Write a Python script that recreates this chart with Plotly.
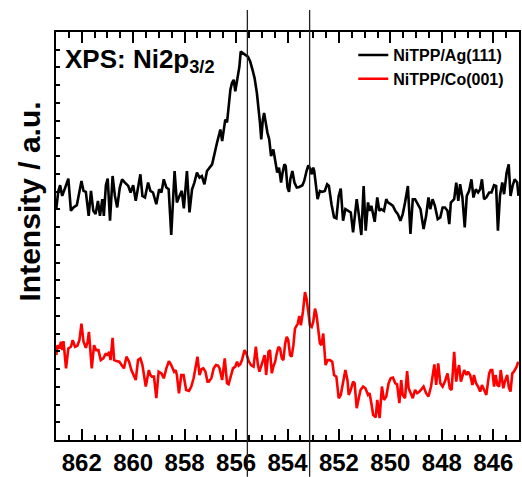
import plotly.graph_objects as go

# Binding energy (eV) and intensity (a.u.)
be_ag = [862.99, 862.91, 862.84, 862.76, 862.64, 862.52, 862.42, 862.32, 862.19, 862.09,
         862.01, 861.93, 861.84, 861.73, 861.64, 861.55, 861.46, 861.37, 861.29, 861.20,
         861.14, 861.06, 860.99, 860.90, 860.80, 860.71, 860.62, 860.52, 860.43, 860.32,
         860.19, 860.10, 860.00, 859.90, 859.81, 859.72, 859.64, 859.54, 859.42, 859.33,
         859.23, 859.10, 858.99, 858.90, 858.81, 858.71, 858.62, 858.52, 858.39, 858.30,
         858.20, 858.11, 858.03, 857.91, 857.81, 857.71, 857.62, 857.52, 857.42, 857.33,
         857.23, 857.13, 856.93, 856.87, 856.80, 856.74, 856.67, 856.61, 856.54, 856.48,
         856.42, 856.35, 856.29, 856.22, 856.16, 856.09, 856.03, 855.93, 855.87, 855.82,
         855.75, 855.64, 855.54, 855.45, 855.36, 855.28, 855.19, 855.13, 855.07, 855.02,
         854.96, 854.91, 854.84, 854.78, 854.71, 854.64, 854.55, 854.48, 854.40, 854.33,
         854.25, 854.19, 854.12, 854.07, 854.00, 853.94, 853.89, 853.81, 853.73, 853.64,
         853.54, 853.42, 853.35, 853.26, 853.19, 853.11, 853.06, 853.00, 852.96, 852.83,
         852.74, 852.65, 852.55, 852.46, 852.39, 852.29, 852.19, 852.10, 852.01, 851.93,
         851.84, 851.75, 851.65, 851.54, 851.45, 851.39, 851.31, 851.23, 851.13, 851.04,
         850.96, 850.87, 850.81, 850.74, 850.61, 850.51, 850.43, 850.36, 850.25, 850.16,
         850.10, 849.99, 849.90, 849.81, 849.71, 849.61, 849.52, 849.43, 849.32, 849.22,
         849.13, 849.04, 848.94, 848.83, 848.71, 848.61, 848.52, 848.45, 848.36, 848.27,
         848.16, 848.06, 847.97, 847.88, 847.78, 847.71, 847.65, 847.52, 847.44, 847.36,
         847.29, 847.20, 847.11, 847.03, 846.94, 846.85, 846.77, 846.68, 846.59, 846.51,
         846.44, 846.36, 846.27, 846.16, 846.07, 845.97, 845.89, 845.82, 845.74, 845.65,
         845.58, 845.48, 845.40, 845.33, 845.25, 845.17, 845.07, 845.02]
int_ag = [232.0, 250.3, 256.0, 245.3, 253.7, 262.7, 230.3, 233.7, 236.0, 248.7,
          260.3, 250.3, 249.3, 225.3, 250.3, 230.3, 227.0, 240.3, 225.3, 242.0,
          225.3, 256.0, 262.7, 220.3, 265.3, 245.3, 233.7, 253.7, 262.0, 258.7,
          255.3, 248.7, 256.0, 240.3, 252.0, 267.0, 245.3, 243.7, 258.7, 250.3,
          248.7, 237.0, 252.0, 248.7, 262.0, 253.7, 252.0, 206.0, 270.3, 238.7,
          245.3, 250.3, 232.7, 270.3, 228.7, 252.0, 258.7, 268.7, 263.7, 265.3,
          257.0, 270.3, 277.0, 285.3, 292.0, 298.7, 305.3, 312.0, 300.3, 313.7,
          322.0, 319.3, 335.3, 352.0, 358.7, 362.0, 350.3, 365.3, 375.3, 390.3,
          388.7, 387.0, 385.3, 380.3, 372.0, 363.7, 348.7, 335.3, 318.7, 302.0,
          322.0, 328.7, 317.0, 308.7, 302.0, 285.3, 292.0, 282.0, 268.7, 273.7,
          258.7, 268.7, 277.0, 275.3, 253.7, 249.3, 262.0, 270.3, 258.7, 253.7,
          254.3, 256.0, 260.3, 270.3, 276.0, 272.0, 267.0, 273.7, 270.3, 242.0,
          250.3, 249.3, 250.3, 257.0, 255.3, 237.0, 223.7, 222.7, 245.3, 252.7,
          220.3, 232.0, 230.3, 228.7, 208.7, 225.3, 242.0, 227.0, 206.0, 255.3,
          210.3, 238.7, 230.3, 235.3, 219.3, 243.7, 230.3, 232.0, 230.3, 242.0,
          238.7, 237.0, 235.3, 230.3, 227.0, 220.3, 227.0, 238.7, 255.3, 207.0,
          242.0, 242.0, 237.0, 232.0, 212.0, 225.3, 243.7, 232.0, 242.0, 235.3,
          222.0, 223.7, 233.7, 233.7, 230.3, 217.0, 238.7, 242.0, 258.7, 240.3,
          257.0, 243.7, 213.7, 245.3, 250.3, 262.0, 243.7, 252.0, 248.7, 252.0,
          262.0, 242.0, 243.7, 248.7, 248.7, 256.0, 255.3, 210.3, 245.3, 258.7,
          247.0, 268.7, 277.0, 245.3, 255.3, 262.0, 258.7, 245.3]

be_co = [862.99, 862.94, 862.86, 862.81, 862.76, 862.71, 862.61, 862.52, 862.42, 862.35,
         862.26, 862.17, 862.09, 862.01, 861.93, 861.84, 861.77, 861.72, 861.61, 861.52,
         861.44, 861.35, 861.26, 861.16, 861.06, 861.01, 860.93, 860.88, 860.80, 860.74,
         860.65, 860.54, 860.45, 860.36, 860.26, 860.16, 860.07, 859.97, 859.90, 859.81,
         859.72, 859.64, 859.51, 859.39, 859.33, 859.27, 859.19, 859.10, 859.01, 858.90,
         858.81, 858.71, 858.61, 858.52, 858.41, 858.35, 858.30, 858.22, 858.13, 858.04,
         857.94, 857.83, 857.74, 857.65, 857.58, 857.50, 857.42, 857.34, 857.27, 857.19,
         857.11, 857.06, 856.96, 856.87, 856.78, 856.70, 856.64, 856.54, 856.44, 856.35,
         856.29, 856.20, 856.12, 856.03, 855.96, 855.90, 855.84, 855.77, 855.67, 855.60,
         855.51, 855.42, 855.32, 855.23, 855.15, 855.09, 855.02, 854.96, 854.89, 854.83,
         854.74, 854.68, 854.61, 854.55, 854.48, 854.42, 854.35, 854.29, 854.22, 854.16,
         854.09, 854.03, 853.97, 853.90, 853.84, 853.77, 853.71, 853.60, 853.54, 853.48,
         853.40, 853.32, 853.26, 853.19, 853.13, 853.06, 853.00, 852.93, 852.87, 852.74,
         852.68, 852.61, 852.52, 852.44, 852.35, 852.26, 852.19, 852.10, 852.01, 851.93,
         851.84, 851.75, 851.67, 851.62, 851.54, 851.45, 851.39, 851.31, 851.23, 851.16,
         851.06, 850.97, 850.87, 850.81, 850.74, 850.67, 850.57, 850.51, 850.42, 850.33,
         850.25, 850.16, 850.07, 849.99, 849.90, 849.81, 849.74, 849.65, 849.58, 849.52,
         849.43, 849.35, 849.29, 849.20, 849.13, 849.04, 848.96, 848.87, 848.81, 848.71,
         848.61, 848.52, 848.42, 848.36, 848.29, 848.22, 848.14, 848.06, 847.97, 847.88,
         847.78, 847.69, 847.62, 847.52, 847.44, 847.39, 847.33, 847.26, 847.20, 847.13,
         847.04, 846.98, 846.90, 846.81, 846.75, 846.67, 846.59, 846.51, 846.44, 846.36,
         846.27, 846.16, 846.10, 846.04, 845.97, 845.91, 845.84, 845.77, 845.71, 845.61,
         845.55, 845.46, 845.39, 845.33, 845.26, 845.20, 845.09, 845.03]
int_co = [85.3, 95.3, 92.0, 98.7, 90.3, 99.3, 72.0, 92.0, 93.7, 100.3,
          93.7, 94.7, 100.3, 117.0, 98.7, 92.7, 98.7, 108.7, 72.0, 95.3,
          90.3, 90.3, 80.3, 82.0, 87.0, 84.7, 88.7, 80.3, 102.7, 80.3,
          79.3, 78.7, 75.3, 72.0, 83.7, 78.7, 70.3, 65.3, 60.3, 80.3,
          82.0, 75.3, 53.7, 70.3, 65.3, 63.7, 63.7, 42.0, 68.7, 67.0,
          62.0, 72.0, 79.3, 75.3, 68.7, 70.3, 65.3, 47.0, 65.3, 65.3,
          50.3, 49.3, 53.7, 62.0, 72.0, 83.7, 65.3, 71.3, 72.0, 68.7,
          58.7, 58.7, 62.0, 72.0, 75.3, 74.7, 72.0, 60.3, 82.0, 57.0,
          56.0, 65.3, 72.0, 73.7, 78.7, 74.7, 76.0, 80.3, 90.3, 87.0,
          79.3, 75.3, 73.7, 93.7, 75.3, 68.7, 75.3, 80.3, 85.3, 65.3,
          88.7, 90.3, 67.0, 73.7, 78.7, 87.0, 93.7, 92.0, 82.0, 80.3,
          97.0, 103.7, 100.3, 85.3, 83.7, 95.3, 112.0, 117.0, 124.7, 115.3,
          128.7, 148.7, 142.0, 128.7, 115.3, 113.7, 118.7, 132.0, 125.3, 97.0,
          95.3, 107.0, 75.3, 80.3, 80.3, 78.7, 65.3, 63.7, 42.0, 45.3,
          58.7, 70.3, 60.3, 45.3, 50.3, 58.7, 57.0, 32.0, 42.0, 50.3,
          53.7, 52.0, 45.3, 47.0, 37.0, 25.3, 22.7, 40.3, 22.0, 53.7,
          40.3, 43.7, 57.0, 62.0, 62.7, 57.0, 56.0, 37.0, 60.3, 45.3,
          42.0, 69.3, 52.0, 45.3, 42.0, 50.3, 47.0, 48.7, 50.3, 53.7,
          47.0, 43.7, 53.7, 63.7, 76.0, 55.3, 77.0, 57.0, 53.7, 58.7,
          67.0, 52.0, 50.3, 88.7, 58.7, 68.7, 75.3, 58.7, 65.3, 70.3,
          65.3, 68.7, 65.3, 55.3, 65.3, 57.0, 53.7, 48.7, 55.3, 50.3,
          45.3, 67.0, 70.3, 70.3, 53.7, 65.3, 55.3, 53.7, 70.3, 52.0,
          58.7, 65.3, 52.0, 48.7, 67.0, 68.7, 73.7, 78.7]

marker_lines = [855.56, 853.14]
x_ticks = [862, 860, 858, 856, 854, 852, 850, 848, 846]

FONT = "Liberation Sans"

fig = go.Figure()
fig.add_trace(go.Scatter(x=be_ag, y=int_ag, mode="lines", name="NiTPP/Ag(111)",
                         line=dict(color="#000000", width=2.6)))
fig.add_trace(go.Scatter(x=be_co, y=int_co, mode="lines", name="NiTPP/Co(001)",
                         line=dict(color="#ff0000", width=2.6)))

for xv in marker_lines:
    fig.add_shape(type="line", xref="x", yref="paper", x0=xv, x1=xv,
                  y0=-0.09, y1=1.054, line=dict(color="#222222", width=1.3), layer="above")

fig.add_annotation(text="<b>XPS: Ni2p<sub>3/2</sub></b>", xref="paper", yref="paper",
                   x=0.016, y=0.975, xanchor="left", yanchor="top", showarrow=False,
                   font=dict(family=FONT, size=26, color="black"))
fig.add_annotation(text="<b>Intensity / a.u.</b>", xref="paper", yref="paper",
                   x=-0.058, y=0.585, xanchor="center", yanchor="middle", textangle=-90,
                   showarrow=False, font=dict(family=FONT, size=30, color="black"))

fig.update_layout(
    width=522, height=477,
    margin=dict(l=56, r=1, t=32, b=35),
    paper_bgcolor="white", plot_bgcolor="white",
    font=dict(family=FONT, color="black", weight="bold"),
    showlegend=True,
    legend=dict(x=0.979, y=0.985, xanchor="right", yanchor="top",
                bgcolor="rgba(0,0,0,0)", font=dict(family=FONT, size=16, weight="bold"),
                tracegroupgap=0, itemwidth=30),
    xaxis=dict(range=[863, 845], tickmode="array", tickvals=x_ticks,
               ticktext=[str(v) for v in x_ticks],
               ticks="inside", ticklen=11, tickwidth=2, tickcolor="black",
               minor=dict(dtick=0.5, tick0=862, ticks="inside", ticklen=5.5, tickwidth=2, tickcolor="black"),
               showline=True, linewidth=2, linecolor="black", mirror="ticks",
               showgrid=False, zeroline=False,
               tickfont=dict(family=FONT, size=24, color="black", weight="bold")),
    yaxis=dict(range=[0, 410], tickmode="linear", tick0=0, dtick=410/23,
               showticklabels=False, ticks="inside", ticklen=4, tickwidth=1.5, tickcolor="black",
               showline=True, linewidth=2, linecolor="black", mirror=True,
               showgrid=False, zeroline=False),
)

fig.write_html("out.html")
